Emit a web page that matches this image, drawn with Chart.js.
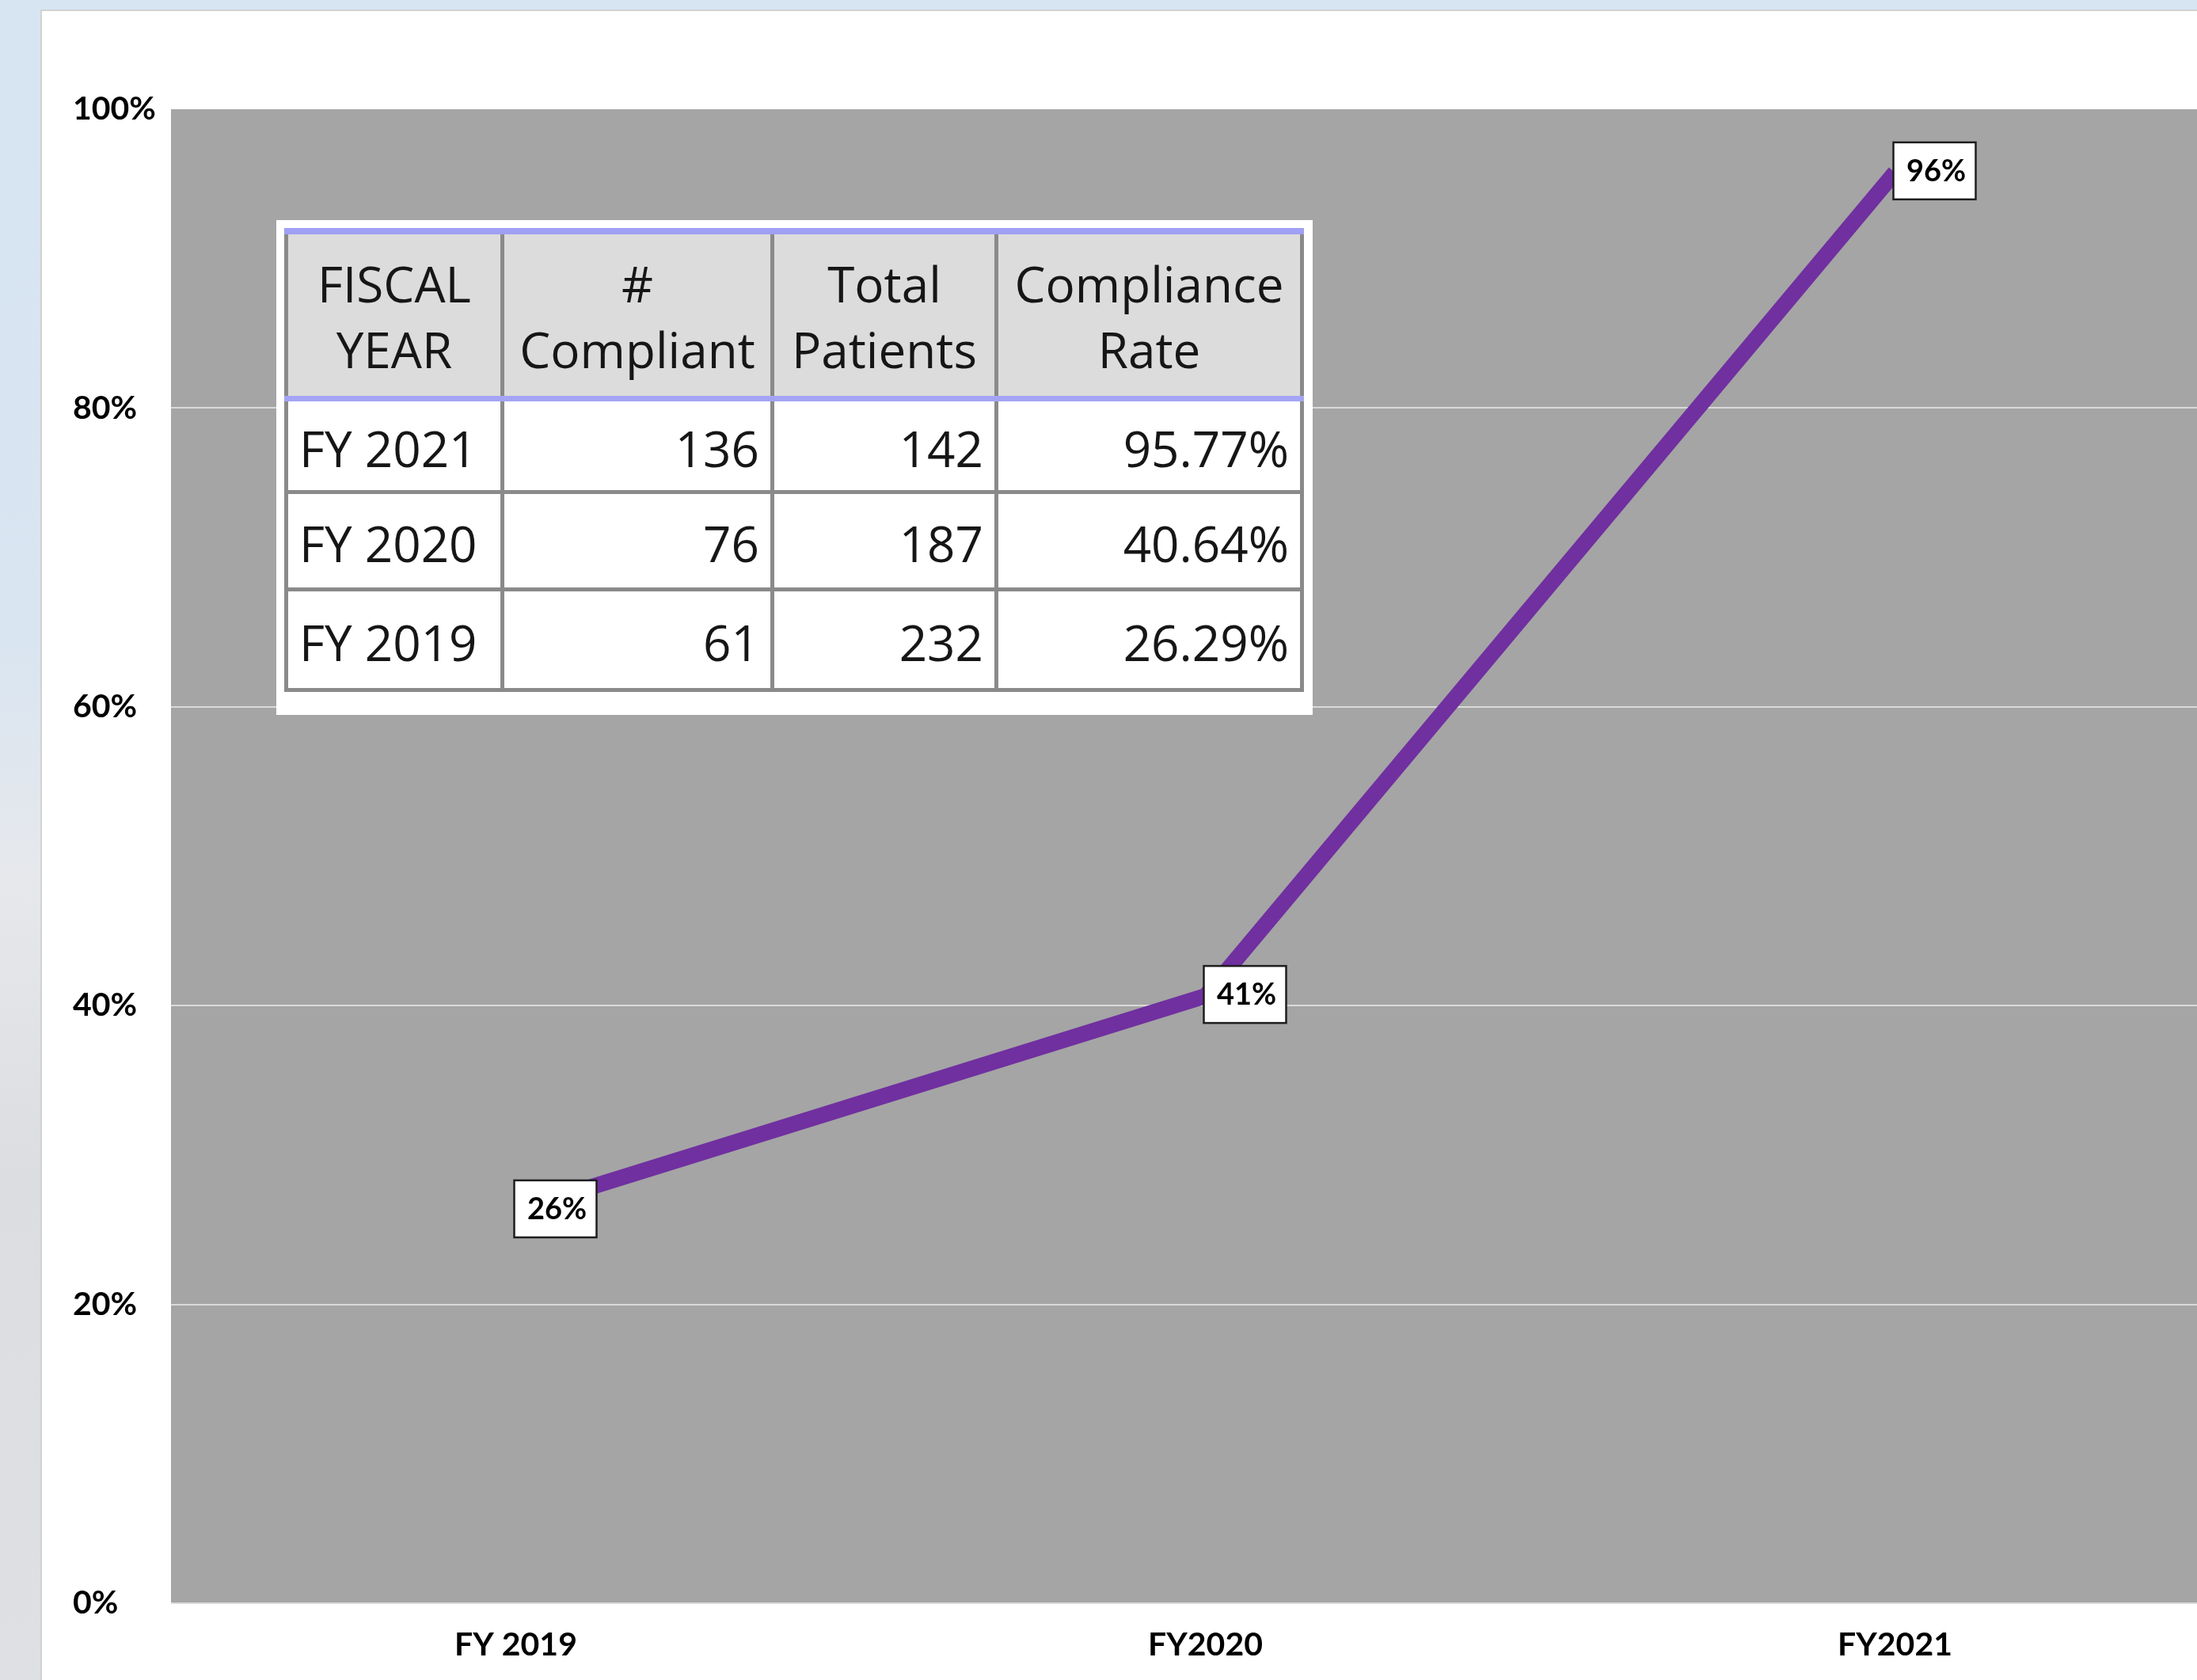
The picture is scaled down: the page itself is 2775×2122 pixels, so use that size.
<!DOCTYPE html>
<html>
<head>
<meta charset="utf-8">
<script src="https://cdn.jsdelivr.net/npm/chart.js@4.4.1/dist/chart.umd.min.js"></script>
<style>
    html, body {
        margin: 0;
        width: 2775px;
        height: 2122px;
        overflow: hidden;
    }
    body {
        position: relative;
        background: linear-gradient(to bottom, #d7e4f2 0%, #d9e5f1 38%, #e6e8ec 52%, #dcdde1 70%, #dfe0e4 100%);
    }
    #panel {
        position: absolute;
        left: 51px;
        top: 12px;
        width: 2800px;
        height: 2120px;
        background: #fff;
        border-left: 2px solid #d2d2d2;
        border-top: 2px solid #d2d2d2;
    }
    #complianceChart {
        display: block;
    }
    #tableBox {
        position: absolute;
        left: 349px;
        top: 278px;
        width: 1309px;
        height: 625px;
        padding: 10px;
        box-sizing: border-box;
        background: #fff;
    }
    #complianceTable {
        border-collapse: collapse;
        table-layout: fixed;
        width: 1283px;
        font-family: "Open Sans", sans-serif;
        font-size: 62px;
        color: #161616;
    }
    #complianceTable th, #complianceTable td {
        border: 5px solid #8a8a8a;
        padding: 0 14px;
        white-space: nowrap;
        overflow: hidden;
    }
    #complianceTable th {
        background: #dcdcdc;
        font-weight: normal;
        line-height: 83px;
        height: 200px;
        text-align: center;
        border-top: 8px solid #a0a0f4;
        border-bottom: 7px solid #a4a4f4;
        padding-top: 4px;
    }
    #complianceTable td {
        text-align: right;
        line-height: 70px;
        padding-top: 6px;
    }
    #complianceTable tr:nth-child(2) td { height: 106px; }
    #complianceTable tr:nth-child(3) td { height: 112px; }
    #complianceTable tr:nth-child(4) td { height: 116px; }
    #complianceTable td:first-child {
        text-align: left;
    }
</style>
</head>
<body>
<div id="panel"><canvas id="complianceChart" width="2800" height="2108"></canvas></div>
<div id="tableBox"><table id="complianceTable"></table></div>
<script>
// chart data
let years = ["FY 2019", "FY2020", "FY2021"];
let rates = [26.29, 40.64, 95.77];
let yTicks = [0, 20, 40, 60, 80, 100];

// table data
let tableHeaders = ["FISCAL<br>YEAR", "#<br>Compliant", "Total<br>Patients", "Compliance<br>Rate"];
let tableYears = ["FY 2021", "FY 2020", "FY 2019"];
let compliant = [136, 76, 61];
let totalPatients = [142, 187, 232];
let complianceRate = ["95.77%", "40.64%", "26.29%"];

let colWidths = [273, 341, 283, 386];
let table = document.getElementById("complianceTable");
let html = '<colgroup>' + colWidths.map(w => `<col style="width:${w}px">`).join('') + '</colgroup>';
html += '<tr>' + tableHeaders.map(h => `<th>${h}</th>`).join('') + '</tr>';
tableYears.forEach((y, i) => {
    html += `<tr><td>${y}</td><td>${compliant[i]}</td><td>${totalPatients[i]}</td><td>${complianceRate[i]}</td></tr>`;
});
table.innerHTML = html;

const plotBackground = {
    id: 'plotBackground',
    beforeDraw(chart) {
        const { ctx, chartArea: a } = chart;
        ctx.save();
        ctx.fillStyle = '#a5a5a5';
        ctx.fillRect(a.left, a.top, a.right - a.left, a.bottom - a.top);
        ctx.restore();
    }
};

// boxed value labels next to each point
const pointLabels = {
    id: 'pointLabels',
    afterDatasetsDraw(chart) {
        const ctx = chart.ctx;
        ctx.save();
        chart.getDatasetMeta(0).data.forEach((pt, i) => {
            let bx = pt.x - 2;
            let by = pt.y - 38;
            ctx.fillStyle = '#fff';
            ctx.fillRect(bx, by, 104, 72);
            ctx.strokeStyle = '#1e1e1e';
            ctx.lineWidth = 2.5;
            ctx.strokeRect(bx, by, 104, 72);
            ctx.fillStyle = '#000';
            ctx.font = 'bold 38px Lato';
            ctx.textAlign = 'center';
            ctx.textBaseline = 'middle';
            ctx.fillText(Math.round(rates[i]) + '%', bx + 54, by + 37);
        });
        ctx.restore();
    }
};

let ctxL = document.getElementById("complianceChart").getContext('2d');

let myLineChart = new Chart(ctxL, {
    type: 'line',
    data: {
        labels: years,
        datasets: [{
            label: "Compliance Rate",
            data: rates,
            borderColor: '#7030a0',
            borderWidth: 20,
            borderCapStyle: 'butt',
            borderJoinStyle: 'miter',
            pointRadius: 0,
            pointHoverRadius: 0,
            tension: 0,
            fill: false
        }]
    },
    options: {
        responsive: false,
        animation: false,
        devicePixelRatio: 1,
        layout: {
            padding: { left: 39, top: 124, right: 24, bottom: 0 }
        },
        plugins: {
            legend: { display: false },
            tooltip: { enabled: false }
        },
        scales: {
            x: {
                offset: true,
                grid: { display: false, drawTicks: false },
                border: { display: false },
                ticks: {
                    color: '#000',
                    padding: 28,
                    font: { family: 'Lato', size: 41, weight: 'bold' }
                },
                afterFit: function (scale) { scale.height = 97; }
            },
            y: {
                min: 0,
                max: 100,
                afterBuildTicks: function (scale) { scale.ticks = yTicks.map(v => ({ value: v })); },
                grid: {
                    drawTicks: false,
                    lineWidth: 2,
                    color: c => (c.tick && c.tick.value === 100) ? 'rgba(0,0,0,0)' : '#dadada'
                },
                border: { display: false },
                ticks: {
                    color: '#000',
                    crossAlign: 'far',
                    padding: 0,
                    font: { family: 'Lato', size: 41, weight: 'bold', lineHeight: 1.0 },
                    callback: v => v + '%'
                },
                afterFit: function (scale) { scale.width = 124; }
            }
        }
    },
    plugins: [plotBackground, pointLabels]
});
</script>
</body>
</html>
